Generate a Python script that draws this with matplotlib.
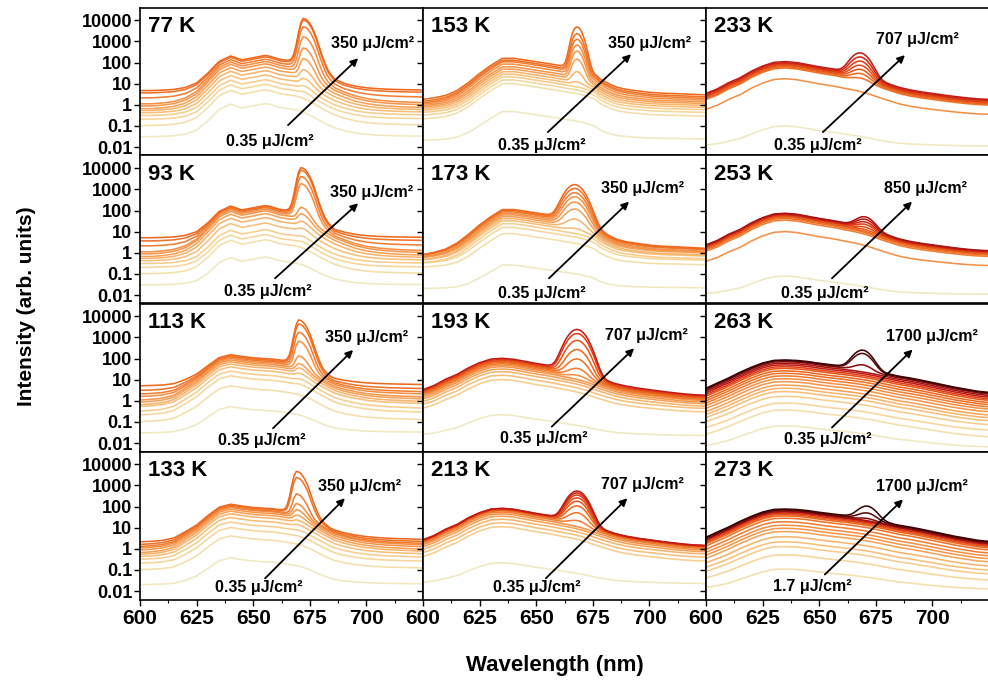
import numpy as np
import matplotlib
matplotlib.use('Agg')
import matplotlib.pyplot as plt
from matplotlib.colors import LinearSegmentedColormap
from matplotlib.ticker import FixedLocator, FixedFormatter, LogLocator, NullFormatter

plt.rcParams['font.family'] = ['Liberation Sans', 'DejaVu Sans']
plt.rcParams['font.weight'] = 'bold'

# ---------------- data ----------------
WL = [600, 605, 610, 615, 620, 625, 630, 635, 640, 645, 650, 655] + list(range(656, 687)) + \
     [690, 695, 700, 705, 710, 715, 720, 725]

# broad-band emission shapes (relative)
SHAPE_LOW_A = [0.001, 0.001, 0.002, 0.004, 0.01, 0.03, 0.13, 0.52, 0.95, 0.62, 0.78, 1.0,
               0.98, 0.94, 0.88, 0.81, 0.75, 0.69, 0.65, 0.62, 0.6, 0.58, 0.56, 0.54, 0.52, 0.49, 0.46,
               0.43, 0.39, 0.35, 0.31, 0.27, 0.23, 0.2, 0.17, 0.145, 0.122, 0.104, 0.088, 0.075, 0.064,
               0.055, 0.047,
               0.028, 0.015, 0.009, 0.006, 0.0045, 0.0035, 0.003, 0.0025]
SHAPE_LOW_B = [0.001, 0.002, 0.004, 0.01, 0.035, 0.09, 0.28, 0.72, 1.0, 0.82, 0.7, 0.64,
               0.63, 0.62, 0.61, 0.6, 0.58, 0.56, 0.54, 0.52, 0.5, 0.48, 0.46, 0.44, 0.42, 0.4, 0.38,
               0.35, 0.32, 0.29, 0.26, 0.23, 0.2, 0.175, 0.15, 0.13, 0.11, 0.095, 0.082, 0.07, 0.06,
               0.052, 0.045,
               0.03, 0.02, 0.014, 0.011, 0.009, 0.008, 0.007, 0.006]
SHAPE_MID = [0.002, 0.004, 0.008, 0.02, 0.06, 0.18, 0.45, 0.97, 0.98, 0.82, 0.67, 0.55,
             0.53, 0.51, 0.49, 0.47, 0.45, 0.43, 0.41, 0.39, 0.375, 0.36, 0.345, 0.33, 0.315, 0.3, 0.28,
             0.26, 0.24, 0.22, 0.2, 0.18, 0.155, 0.13, 0.1, 0.085, 0.072, 0.062, 0.054, 0.047, 0.041,
             0.036, 0.032,
             0.024, 0.019, 0.015, 0.013, 0.012, 0.011, 0.01, 0.009]
SHAPE_HIGH_A = [0.03, 0.05, 0.1, 0.17, 0.35, 0.62, 0.92, 1.0, 0.9, 0.72, 0.57, 0.47,
                0.45, 0.43, 0.41, 0.39, 0.37, 0.35, 0.335, 0.32, 0.305, 0.29, 0.275, 0.26, 0.245, 0.23,
                0.215, 0.2, 0.185, 0.17, 0.155, 0.142, 0.13, 0.119, 0.109, 0.1, 0.092, 0.085, 0.078,
                0.072, 0.066, 0.061, 0.057,
                0.045, 0.036, 0.03, 0.025, 0.021, 0.018, 0.016, 0.015]
SHAPE_HIGH_B = [0.045, 0.08, 0.14, 0.26, 0.45, 0.72, 0.96, 1.0, 0.95, 0.84, 0.7, 0.6,
                0.58, 0.565, 0.55, 0.535, 0.52, 0.505, 0.49, 0.475, 0.46, 0.445, 0.43, 0.415, 0.4, 0.385,
                0.37, 0.355, 0.34, 0.325, 0.31, 0.295, 0.28, 0.265, 0.25, 0.237, 0.225, 0.213, 0.202,
                0.191, 0.181, 0.172, 0.164,
                0.14, 0.11, 0.085, 0.065, 0.05, 0.04, 0.032, 0.028]

# amplified-emission peak profiles (relative), offsets in nm from the peak centre
PEAK_OFFSETS = list(range(-12, 15))
PROFILE_ASYM = [0, 0, 0, 0, 0, 0.0002, 0.0008, 0.003, 0.012, 0.05, 0.2, 0.6, 1.0,
                0.95, 0.8, 0.58, 0.38, 0.22, 0.11, 0.05, 0.022, 0.01, 0.0045, 0.002, 0.001, 0.0005, 0.0002]
PROFILE_NARROW = [0, 0, 0, 0, 0, 0.0004, 0.002, 0.01, 0.05, 0.18, 0.5, 0.85, 1.0,
                  0.88, 0.61, 0.32, 0.135, 0.044, 0.011, 0.002, 0.0003, 0, 0, 0, 0, 0, 0]
PROFILE_MED = [0.0014, 0.004, 0.01, 0.024, 0.053, 0.105, 0.19, 0.32, 0.48, 0.66, 0.83, 0.955, 1.0,
               0.955, 0.83, 0.66, 0.48, 0.32, 0.19, 0.105, 0.053, 0.024, 0.01, 0.004, 0.0014, 0.0004, 0.0001]

# fluences (uJ/cm2)
F_LOW = [0.35, 1.7, 3.5, 7, 17, 35, 70, 106, 141, 212, 283, 350]
F_193 = [0.35, 7, 17, 35, 70, 106, 141, 212, 283, 350, 424, 566, 707]
F_213 = [0.35, 7, 17, 35, 70, 141, 212, 283, 350, 424, 495, 566, 636, 707]
F_233 = [0.35, 141, 283, 350, 424, 495, 566, 636, 707]
F_253 = [0.35, 141, 212, 283, 350, 424, 495, 566, 636, 707, 850]
F_263 = [0.35, 1.7, 3.5, 7, 17, 35, 70, 106, 141, 212, 283, 350, 424, 566, 707, 850, 1130, 1400, 1700]
F_273 = [1.7, 3.5, 7, 17, 35, 70, 106, 141, 212, 283, 350, 424, 566, 707, 850, 1130, 1400, 1700]

BAND_77 = [1.1, 5, 9, 15, 25, 40, 60, 85, 110, 140, 180, 210]
PEAK_77 = [0, 0, 0.5, 2, 8, 30, 130, 450, 1600, 4800, 10000, 12000]
FLOOR_77 = [0.03, 0.1, 0.2, 0.3, 0.4, 0.5, 0.6, 0.8, 1.0, 2.0, 3.5, 4.5]

BAND_93 = [0.6, 4, 7, 12, 25, 45, 70, 95, 115, 135, 150, 165]
PEAK_93 = [0, 0, 0.3, 1, 4, 12, 40, 100, 1800, 4000, 8000, 10500]
FLOOR_93 = [0.03, 0.1, 0.2, 0.3, 0.4, 0.5, 0.6, 0.8, 1.0, 2.0, 3.5, 5.0]

BAND_113 = [0.5, 5, 15, 25, 40, 55, 70, 85, 100, 115, 130, 147]
PEAK_113 = [0, 0, 0.5, 1.5, 5, 15, 30, 100, 620, 1700, 4200, 6600]
FLOOR_113 = [0.03, 0.1, 0.2, 0.3, 0.5, 0.6, 0.8, 1.0, 1.5, 2.0, 3.0, 5.0]

BAND_133 = [0.35, 4, 10, 18, 30, 45, 60, 75, 90, 100, 115, 126]
PEAK_133 = [0, 0, 0, 0.5, 2, 5, 15, 40, 100, 350, 2300, 4500]
FLOOR_133 = [0.02, 0.1, 0.2, 0.3, 0.4, 0.5, 0.6, 0.8, 1.0, 1.2, 1.5, 2.0]

BAND_153 = [0.47, 10, 15, 21, 28, 37, 49, 63, 85, 110, 130, 160]
PEAK_153 = [0, 0, 0, 0, 3, 25, 130, 330, 650, 1250, 2300, 4800]
FLOOR_153 = [0.02, 0.2, 0.3, 0.4, 0.5, 0.6, 0.7, 0.8, 0.9, 1.0, 1.2, 1.5]

BAND_173 = [0.25, 8, 16, 24, 33, 42, 52, 63, 75, 88, 100, 113]
PEAK_173 = [0, 0, 0, 0, 3, 25, 100, 230, 420, 670, 1080, 1650]
FLOOR_173 = [0.02, 0.2, 0.3, 0.3, 0.4, 0.4, 0.5, 0.5, 0.5, 0.6, 0.6, 0.6]

BAND_193 = [0.2, 10, 16, 24, 32, 41, 49, 57, 65, 72, 80, 90, 102]
PEAK_193 = [0, 0, 0, 0, 0, 0, 4, 20, 80, 250, 700, 1500, 2350]
FLOOR_193 = [0.02, 0.15, 0.2, 0.2, 0.25, 0.25, 0.3, 0.3, 0.3, 0.3, 0.3, 0.3, 0.3]

BAND_213 = [0.2, 11, 17, 25, 35, 45, 55, 64, 70, 73, 76, 78, 80, 82]
PEAK_213 = [0, 0, 0, 0, 0, 0, 8, 35, 90, 160, 240, 330, 420, 520]
FLOOR_213 = [0.02, 0.1, 0.15, 0.2, 0.2, 0.2, 0.2, 0.2, 0.2, 0.2, 0.2, 0.2, 0.2, 0.2]

BAND_233 = [0.09, 17, 55, 63, 72, 80, 88, 98, 110]
PEAK_233 = [0, 0, 5, 15, 30, 55, 95, 160, 260]
FLOOR_233 = [0.01, 0.1, 0.15, 0.15, 0.15, 0.15, 0.15, 0.15, 0.15]

BAND_253 = [0.07, 10, 35, 42, 48, 54, 58, 62, 66, 70, 74]
PEAK_253 = [0, 0, 0, 0, 0, 1, 4, 9, 15, 24, 35]
FLOOR_253 = [0.01, 0.1, 0.15, 0.15, 0.15, 0.15, 0.15, 0.15, 0.15, 0.15, 0.15]

BAND_263 = [0.06, 0.36, 0.76, 1.6, 2.7, 3.9, 5.5, 8, 11, 15, 20, 26, 34, 41, 50, 60, 71, 80, 85]
PEAK_263 = [0, 0, 0, 0, 0, 0, 0, 0, 0, 0, 0, 0, 0, 0, 0, 0, 23, 144, 217]
FLOOR_263 = [0.005, 0.01, 0.02, 0.03, 0.04, 0.05, 0.06, 0.08, 0.1, 0.1, 0.1, 0.1, 0.1, 0.1, 0.1, 0.1,
             0.1, 0.1, 0.1]

BAND_273 = [0.1, 0.5, 1.25, 2.1, 3.7, 6.5, 9.3, 13, 19, 28, 36, 42, 48, 55, 60, 63, 70, 76]
PEAK_273 = [0, 0, 0, 0, 0, 0, 0, 0, 0, 0, 0, 0, 0, 0, 0, 5, 25, 78]
FLOOR_273 = [0.01, 0.02, 0.03, 0.04, 0.05, 0.06, 0.08, 0.1, 0.1, 0.1, 0.1, 0.1, 0.1, 0.1, 0.1, 0.1,
             0.1, 0.1]

TEMPS = ['77 K', '93 K', '113 K', '133 K', '153 K', '173 K', '193 K', '213 K',
         '233 K', '253 K', '263 K', '273 K']
TOP_LABELS = ['350', '350', '350', '350', '350', '350', '707', '707', '707', '850', '1700', '1700']
LOW_LABELS = ['0.35', '0.35', '0.35', '0.35', '0.35', '0.35', '0.35', '0.35', '0.35', '0.35', '0.35', '1.7']
PEAK_CENTERS = [672, 671, 670, 669, 668, 667, 668, 668, 668, 670, 669, 671]

Y_TICKS = [10000, 1000, 100, 10, 1, 0.1, 0.01]
Y_TICK_LABELS = ['10000', '1000', '100', '10', '1', '0.1', '0.01']
X_TICKS = [600, 625, 650, 675, 700]
X_TICK_LABELS = ['600', '625', '650', '675', '700']

# colour scale by fluence
C_FLU = [0.35, 1.7, 7, 35, 141, 350, 566, 707, 1130, 1700]
C_HEX = ['#efe8c0', '#f3dfaa', '#f6cd8c', '#f6b46c', '#f39046', '#ee6a1e', '#df4018', '#c41c16',
         '#8a1010', '#3a0606']

SERIES = [
    (F_LOW, BAND_77, PEAK_77, FLOOR_77, SHAPE_LOW_A, PROFILE_ASYM),
    (F_LOW, BAND_93, PEAK_93, FLOOR_93, SHAPE_LOW_A, PROFILE_ASYM),
    (F_LOW, BAND_113, PEAK_113, FLOOR_113, SHAPE_LOW_B, PROFILE_ASYM),
    (F_LOW, BAND_133, PEAK_133, FLOOR_133, SHAPE_LOW_B, PROFILE_ASYM),
    (F_LOW, BAND_153, PEAK_153, FLOOR_153, SHAPE_MID, PROFILE_NARROW),
    (F_LOW, BAND_173, PEAK_173, FLOOR_173, SHAPE_MID, PROFILE_MED),
    (F_193, BAND_193, PEAK_193, FLOOR_193, SHAPE_HIGH_A, PROFILE_MED),
    (F_213, BAND_213, PEAK_213, FLOOR_213, SHAPE_HIGH_A, PROFILE_MED),
    (F_233, BAND_233, PEAK_233, FLOOR_233, SHAPE_HIGH_A, PROFILE_MED),
    (F_253, BAND_253, PEAK_253, FLOOR_253, SHAPE_HIGH_A, PROFILE_MED),
    (F_263, BAND_263, PEAK_263, FLOOR_263, SHAPE_HIGH_B, PROFILE_MED),
    (F_273, BAND_273, PEAK_273, FLOOR_273, SHAPE_HIGH_B, PROFILE_MED),
]

# annotation layout (axes fractions): upper text, lower text, arrow tail, arrow head
LAYOUT = [
    ((0.823, 0.755), (0.46, 0.097), (0.523, 0.205), (0.771, 0.657)),
    ((0.82, 0.75), (0.45, 0.08), (0.477, 0.17), (0.771, 0.677)),
    ((0.80, 0.767), (0.43, 0.075), (0.47, 0.157), (0.753, 0.686)),
    ((0.777, 0.762), (0.42, 0.08), (0.442, 0.143), (0.724, 0.684)),
    ((0.80, 0.755), (0.42, 0.07), (0.441, 0.158), (0.735, 0.684)),
    ((0.775, 0.778), (0.42, 0.07), (0.445, 0.17), (0.728, 0.688)),
    ((0.79, 0.787), (0.428, 0.089), (0.455, 0.168), (0.746, 0.697)),
    ((0.775, 0.774), (0.403, 0.08), (0.434, 0.143), (0.722, 0.684)),
    ((0.746, 0.786), (0.396, 0.07), (0.413, 0.158), (0.703, 0.678)),
    ((0.775, 0.778), (0.42, 0.07), (0.445, 0.17), (0.728, 0.688)),
    ((0.80, 0.777), (0.43, 0.08), (0.445, 0.162), (0.73, 0.689)),
    ((0.763, 0.764), (0.375, 0.088), (0.42, 0.169), (0.696, 0.676)),
]

# ---------------- figure ----------------
lf0, lf1 = np.log10(C_FLU[0]), np.log10(C_FLU[-1])
pos = [(np.log10(f) - lf0) / (lf1 - lf0) for f in C_FLU]
cmap = LinearSegmentedColormap.from_list('flu', list(zip(pos, C_HEX)))

def fcolor(f):
    return cmap((np.log10(f) - lf0) / (lf1 - lf0))

W, H = 988.0, 688.0
fig = plt.figure(figsize=(9.88, 6.88), dpi=100)
left0 = 140 / W
pw = 283 / W
top0 = 1 - 7.5 / H
ph = 148 / H

wl = np.array(WL, dtype=float)
for idx in range(12):
    col, row = idx // 4, idx % 4
    ax = fig.add_axes([left0 + col * pw, top0 - (row + 1) * ph, pw, ph])
    flu, band, peak, floor, shape, prof = SERIES[idx]
    shape = np.array(shape)
    pk = np.zeros(len(wl))
    for off, v in zip(PEAK_OFFSETS, prof):
        pk[wl == PEAK_CENTERS[idx] + off] = v
    for f, b, p, fl in zip(flu, band, peak, floor):
        y = b * shape + p * pk + fl
        ax.plot(wl, y, color=fcolor(f), lw=1.15, solid_joinstyle='round')

    ax.set_yscale('log')
    ax.set_ylim(0.004, 40000)
    ax.set_xlim(600, 725)
    ax.yaxis.set_major_locator(FixedLocator(Y_TICKS))
    ax.yaxis.set_minor_locator(LogLocator(base=10, subs=np.arange(2, 10)))
    ax.yaxis.set_minor_formatter(NullFormatter())
    ax.xaxis.set_major_locator(FixedLocator(X_TICKS))
    ax.xaxis.set_minor_locator(FixedLocator([612.5, 637.5, 662.5, 687.5, 712.5]))
    if col == 0:
        ax.yaxis.set_major_formatter(FixedFormatter(Y_TICK_LABELS))
    else:
        ax.yaxis.set_major_formatter(NullFormatter())
    if row == 3:
        ax.xaxis.set_major_formatter(FixedFormatter(X_TICK_LABELS))
    else:
        ax.xaxis.set_major_formatter(NullFormatter())
    ax.tick_params(which='major', direction='out', length=4, width=1.0, pad=1.5)
    ax.tick_params(which='minor', direction='out', length=2, width=0.8)
    ax.tick_params(axis='y', labelsize=13)
    ax.tick_params(axis='x', labelsize=15, pad=3)
    for lab in ax.get_yticklabels() + ax.get_xticklabels():
        lab.set_fontweight('bold')
    for sp in ax.spines.values():
        sp.set_linewidth(1.2)

    ax.text(0.027, 0.945, TEMPS[idx], transform=ax.transAxes, fontsize=16,
            fontweight='bold', ha='left', va='top')
    up, lo, tail, head = LAYOUT[idx]
    ax.text(up[0], up[1], TOP_LABELS[idx] + ' \u03bcJ/cm\u00b2', transform=ax.transAxes,
            fontsize=11.5, fontweight='bold', ha='center', va='center')
    ax.text(lo[0], lo[1], LOW_LABELS[idx] + ' \u03bcJ/cm\u00b2', transform=ax.transAxes,
            fontsize=11.5, fontweight='bold', ha='center', va='center')
    ax.annotate('', xy=head, xytext=tail, xycoords='axes fraction', textcoords='axes fraction',
                arrowprops=dict(arrowstyle='-|>', color='black', lw=1.3, mutation_scale=11,
                                shrinkA=0, shrinkB=0))

fig.text(0.027, 0.555, 'Intensity (arb. units)', rotation=90, fontsize=15, fontweight='bold',
         ha='center', va='center')
fig.text(0.562, 0.033, 'Wavelength (nm)', fontsize=16, fontweight='bold', ha='center', va='center')

fig.savefig('out.png', dpi=100)
